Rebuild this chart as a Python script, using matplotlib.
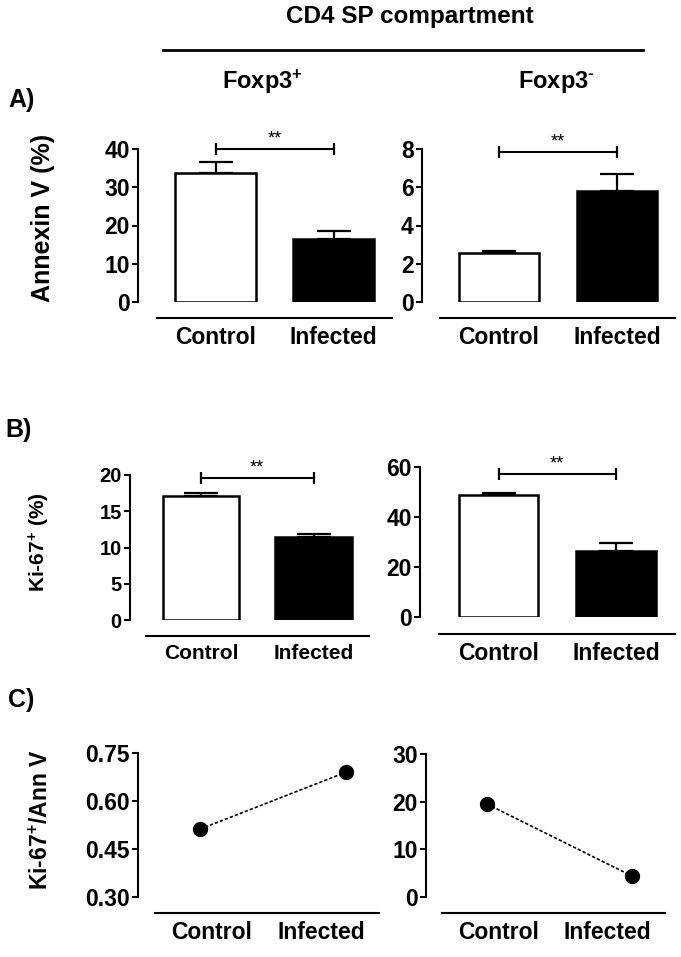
import numpy as np
import matplotlib
matplotlib.use("Agg")
import matplotlib.pyplot as plt
from matplotlib.lines import Line2D

plt.rcParams['font.family'] = ['Liberation Sans', 'DejaVu Sans']
plt.rcParams['font.weight'] = 'bold'
plt.rcParams['mathtext.fontset'] = 'custom'
plt.rcParams['mathtext.rm'] = 'Liberation Sans:bold'
plt.rcParams['mathtext.bf'] = 'Liberation Sans:bold'
plt.rcParams['mathtext.default'] = 'rm'

# data
groups = ['Control', 'Infected']

annexin_pos = [33.6, 16.6]       # Foxp3+ Annexin V (%)
annexin_pos_err = [3.0, 2.0]
annexin_neg = [2.55, 5.8]        # Foxp3- Annexin V (%)
annexin_neg_err = [0.12, 0.9]

ki67_pos = [17.1, 11.4]          # Foxp3+ Ki-67+ (%)
ki67_pos_err = [0.4, 0.5]
ki67_neg = [48.7, 26.4]          # Foxp3- Ki-67+ (%)
ki67_neg_err = [0.8, 3.2]

ratio_pos = [0.512, 0.69]        # Ki-67+/Ann V
ratio_neg = [19.5, 4.4]

sig_heights = [40, 7.85, 19.6, 57.2]   # "**" brackets (A-left, A-right, B-left, B-right)

W, H = 681, 957
fig = plt.figure(figsize=(W / 100, H / 100), dpi=100)


def make_ax(axis_x, c0, c1, base0, base1, top, bottom, base_y, ylim, yticks, fmt,
            tick_fs=16.5, lab_fs=16.5):
    unit = c1 - c0
    ax = fig.add_axes([axis_x / W, 1 - bottom / H, (base1 - axis_x) / W, (bottom - top) / H])
    ax.set_xlim((axis_x - c0) / unit, (base1 - c0) / unit)
    ax.set_ylim(*ylim)
    ax.patch.set_visible(False)
    for s in ['top', 'right']:
        ax.spines[s].set_visible(False)
    ax.spines['left'].set_linewidth(1.5)
    ax.spines['bottom'].set_linewidth(1.5)
    ax.spines['bottom'].set_position(('outward', (base_y - bottom) * 0.72))
    ax.spines['bottom'].set_bounds((base0 - c0) / unit, (base1 - c0) / unit)
    ax.set_yticks(yticks)
    ax.set_yticklabels([fmt.format(t) for t in yticks], fontsize=tick_fs, fontweight='bold')
    ax.tick_params(axis='y', length=4.5, width=1.5, pad=1.5)
    ax.tick_params(axis='x', length=0, pad=6)
    ax.set_xticks([0, 1])
    ax.set_xticklabels(groups, fontsize=lab_fs, fontweight='bold')
    return ax


def bars(ax, vals, errs, sig):
    ax.errorbar([0, 1], vals, yerr=[[0, 0], errs], fmt='none', ecolor='black',
                elinewidth=1.6, capsize=12, capthick=1.6, zorder=2, clip_on=False)
    ax.bar([0, 1], vals, width=0.68, color=['white', 'black'], edgecolor='black',
           linewidth=1.8, zorder=3)
    ax.plot([0, 1], [sig, sig], color='black', lw=1.5, marker='|', ms=9, mew=1.6,
            clip_on=False)
    ax.annotate('**', (0.5, sig), xytext=(0, 1), textcoords='offset points',
                ha='center', va='bottom', fontsize=13, fontweight='normal',
                annotation_clip=False)


def ratio(ax, vals):
    ax.plot([0, 1], vals, color='black', lw=1.2, linestyle=(0, (2, 1.2)),
            marker='o', ms=10, mfc='black', mec='black', clip_on=False)
    ax.set_xticks([0.08, 0.83])
    ax.set_xticklabels(groups, fontsize=16.5, fontweight='bold')


# A) Annexin V
ax = make_ax(138, 215.5, 333.5, 157, 392, 149, 302, 318, (0, 40), [0, 10, 20, 30, 40], '{:d}')
bars(ax, annexin_pos, annexin_pos_err, sig_heights[0])
ax = make_ax(422, 499, 617, 440, 675, 149, 302, 318, (0, 8), [0, 2, 4, 6, 8], '{:d}')
bars(ax, annexin_neg, annexin_neg_err, sig_heights[1])

# B) Ki-67
ax = make_ax(130, 201, 313.5, 146, 369, 475, 620, 636, (0, 20), [0, 5, 10, 15, 20], '{:d}',
             tick_fs=14.5, lab_fs=15)
bars(ax, ki67_pos, ki67_pos_err, sig_heights[2])
ax = make_ax(420, 498.5, 616, 439, 675, 467, 617, 634, (0, 60), [0, 20, 40, 60], '{:d}')
bars(ax, ki67_neg, ki67_neg_err, sig_heights[3])

# C) ratio
ax = make_ax(138, 200, 346, 155, 379, 753, 897, 913, (0.30, 0.75), [0.30, 0.45, 0.60, 0.75], '{:.2f}')
ratio(ax, ratio_pos)
ax = make_ax(426, 487, 632, 442, 665, 754, 897, 913, (0, 30), [0, 10, 20, 30], '{:d}')
ratio(ax, ratio_neg)

# header and labels
fig.text(410 / W, 1 - 17 / H, 'CD4 SP compartment', ha='center', va='center', fontsize=17.5)
fig.add_artist(Line2D([163 / W, 643 / W], [1 - 50 / H, 1 - 50 / H], color='black', lw=2))
fig.text(262 / W, 1 - 82 / H, 'Foxp3$^{+}$', ha='center', va='center', fontsize=17)
fig.text(556 / W, 1 - 82 / H, 'Foxp3$^{\\text{-}}$', ha='center', va='center', fontsize=17)

fig.text(22 / W, 1 - 100 / H, 'A)', ha='center', va='center', fontsize=18)
fig.text(19 / W, 1 - 430 / H, 'B)', ha='center', va='center', fontsize=18)
fig.text(21 / W, 1 - 700 / H, 'C)', ha='center', va='center', fontsize=18)

fig.text(43 / W, 1 - 218 / H, 'Annexin V (%)', rotation=90, ha='center', va='center', fontsize=18)
fig.text(39 / W, 1 - 542 / H, 'Ki-67$^{+}$ (%)', rotation=90, ha='center', va='center', fontsize=15)
fig.text(41 / W, 1 - 820 / H, 'Ki-67$^{+}$/Ann V', rotation=90, ha='center', va='center', fontsize=16.5)

fig.savefig('out.png', dpi=100)
